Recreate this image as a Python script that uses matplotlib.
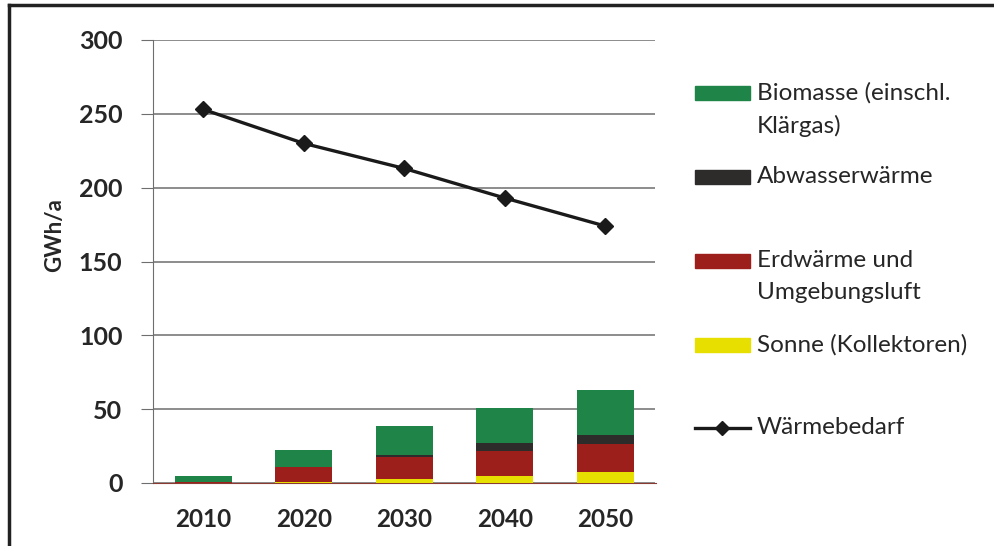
import matplotlib
matplotlib.use("Agg")
import matplotlib.pyplot as plt
from matplotlib.patches import Rectangle
from matplotlib.lines import Line2D
import numpy as np

plt.rcParams['font.family'] = ['Lato', 'DejaVu Sans']

years = ["2010", "2020", "2030", "2040", "2050"]
sonne = [0.0, 0.5, 2.5, 5.0, 7.5]
erdwaerme = [1.0, 10.0, 15.0, 17.0, 18.7]
abwasser = [0.0, 0.0, 1.5, 5.0, 6.3]
biomasse = [4.0, 11.7, 19.5, 24.0, 30.6]
waermebedarf = [253, 230, 213, 193, 174]

series_names = ["Biomasse (einschl.\nKlärgas)", "Abwasserwärme",
                "Erdwärme und\nUmgebungsluft", "Sonne (Kollektoren)", "Wärmebedarf"]
colors = {"sonne": "#e6df00", "erd": "#9c1f1c", "abw": "#2e2b2b", "bio": "#1e8447"}
txt_color = "#262626"

fig = plt.figure(figsize=(9.95, 5.46), dpi=100)
ax = fig.add_axes([153/995, 1-483/546, 502.5/995, 443/546])

x = np.arange(len(years))
w = 0.57
bottom = np.zeros(len(years))
for vals, key in [(sonne, "sonne"), (erdwaerme, "erd"), (abwasser, "abw"), (biomasse, "bio")]:
    ax.bar(x, vals, w, bottom=bottom, color=colors[key], zorder=3)
    bottom += np.array(vals)

ax.plot(x, waermebedarf, color="#1a1a1a", lw=2.4, marker="D", markersize=8,
        zorder=4)

ax.set_xlim(-0.5, len(years) - 0.5)
ax.set_ylim(0, 300)
ax.set_yticks(np.arange(0, 301, 50))
ax.set_xticks(x)
ax.set_xticklabels(years)
ax.yaxis.grid(True, color="#6e6e6e", lw=1.1, zorder=0)
for s in ["top", "right"]:
    ax.spines[s].set_visible(False)
ax.spines["left"].set_color("#6e6e6e")
ax.spines["bottom"].set_color("#8a3a30")
ax.tick_params(axis="y", length=9, color="#6e6e6e", pad=13, labelsize=18)
ax.tick_params(axis="x", length=0, pad=18, labelsize=17.5)
for lbl in ax.get_xticklabels() + ax.get_yticklabels():
    lbl.set_fontweight("bold")
    lbl.set_color(txt_color)
ax.set_ylabel("GWh/a", fontsize=16, fontweight="bold", color=txt_color)
ax.yaxis.set_label_coords(-0.175, 0.56)

# legend (manual layout)
leg_items = [("patch", colors["bio"]), ("patch", colors["abw"]), ("patch", colors["erd"]),
             ("patch", colors["sonne"]), ("line", "#1a1a1a")]
ys = [93, 177, 261, 345, 428]
for (kind, c), name, ypx in zip(leg_items, series_names, ys):
    yf = 1 - ypx/546
    if kind == "patch":
        fig.add_artist(Rectangle((695/995, yf - 7/546), 55/995, 14/546,
                                 transform=fig.transFigure, color=c))
    else:
        fig.add_artist(Line2D([695/995, 750/995], [yf, yf], transform=fig.transFigure,
                              color=c, lw=2.4))
        fig.add_artist(Line2D([722.5/995], [yf], transform=fig.transFigure, color=c,
                              marker="D", markersize=7))
    fig.text(757/995, 1 - (ypx - 11)/546, name, fontsize=17.5, color=txt_color,
             va="top", ha="left", linespacing=1.65)

# frame
fig.add_artist(Line2D([9/995, 1], [1-5/546, 1-5/546], transform=fig.transFigure,
                      color="#222222", lw=2.5))
fig.add_artist(Line2D([9/995, 9/995], [0, 1-5/546], transform=fig.transFigure,
                      color="#222222", lw=2.5))

fig.savefig("out.png", dpi=100)
